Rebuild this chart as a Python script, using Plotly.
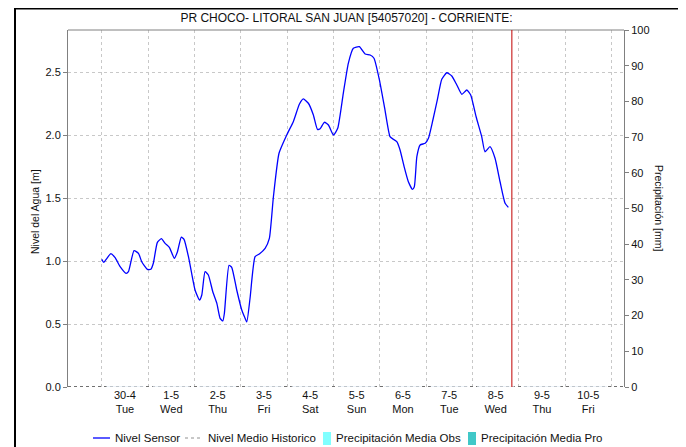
"""
Nivel del agua - PR CHOCO- LITORAL SAN JUAN [54057020]
"""

import pandas as pd
import plotly.graph_objects as go

# horas desde 2024-04-30 00:00 y nivel del sensor [m]
horas = [0, 1, 4.7, 6.9, 9.5, 12.6, 13.8, 16.7, 19.0, 20.7,
         23.6, 25.4, 26.7, 28.8, 30.9, 32.8, 35.0, 37.6, 39.2, 41.2,
         42.6, 44.9, 48.3, 50.6, 51.8, 53.5, 55.2, 57.5, 59.6, 61.3,
         62.7, 63.5, 65.9, 67.3, 69.9, 72.5, 73.9, 75.1, 76.8, 79.4,
         81.6, 84.6, 86.8, 88.9, 91.8, 95.8, 99.2, 102.4, 104.4, 107.0,
         109.6, 111.7, 113.1, 115.3, 117.4, 120.0, 122.2, 125.1, 127.7, 130.3,
         133.4, 136.4, 139.0, 141.0, 143.8, 146.7, 149.3, 151.0, 152.8, 154.5,
         156.6, 158.8, 160.9, 161.9, 163.2, 164.9, 167.5, 169.2, 171.5, 173.8,
         176.1, 178.7, 181.3, 183.9, 186.5, 189.1, 191.1, 193.9, 196.8, 198.5,
         201.1, 203.7, 206.3, 208.9, 210.6]
nivel = [1.013, 0.99, 1.058, 1.026, 0.955, 0.902, 0.915, 1.082, 1.061, 0.994,
         0.934, 0.934, 0.982, 1.148, 1.177, 1.14, 1.109, 1.021, 1.074, 1.19,
         1.172, 1.034, 0.77, 0.69, 0.73, 0.915, 0.889, 0.756, 0.664, 0.545,
         0.524, 0.585, 0.966, 0.95, 0.77, 0.611, 0.558, 0.516, 0.704, 1.034,
         1.056, 1.101, 1.18, 1.51, 1.855, 2.0, 2.106, 2.246, 2.286, 2.252,
         2.159, 2.045, 2.05, 2.101, 2.079, 2.0, 2.053, 2.331, 2.569, 2.688,
         2.701, 2.643, 2.635, 2.609, 2.437, 2.198, 1.987, 1.966, 1.947, 1.881,
         1.749, 1.629, 1.569, 1.59, 1.828, 1.921, 1.934, 1.974, 2.119, 2.278,
         2.442, 2.494, 2.468, 2.397, 2.323, 2.357, 2.317, 2.145, 1.987, 1.867,
         1.907, 1.815, 1.629, 1.458, 1.426]

dias = pd.date_range("2024-04-30", "2024-05-11", freq="D")
etiquetas = ["30-4<br>Tue", "1-5<br>Wed", "2-5<br>Thu", "3-5<br>Fri", "4-5<br>Sat",
             "5-5<br>Sun", "6-5<br>Mon", "7-5<br>Tue", "8-5<br>Wed", "9-5<br>Thu",
             "10-5<br>Fri"]
nivel_historico = [0, 0]
precip_obs = [0] * 11
precip_pro = [0] * 11

series = ["Nivel Sensor", "Nivel Medio Historico",
          "Precipitación Media Obs", "Precipitación Media Pro"]
colores = ["#0000ff", "#909090", "#80ffff", "#40c8c8"]

rango_x = ["2024-04-29 06:30", "2024-05-11 06:30"]
ahora = "2024-05-08 20:25"

fechas = pd.Timestamp("2024-04-30") + pd.to_timedelta(horas, unit="h")
mediodia = dias[:11] + pd.Timedelta(hours=12)

FONT = "Liberation Sans, Arial, sans-serif"
OFF = 8  # margen del body de la pagina
W, H = 686 - OFF, 447 - OFF
L, R, T, B = 68 - OFF, 624 - OFF, 30 - OFF, 387 - OFF


def px(x):
    # pixel de la pagina -> coordenada paper
    return (x - OFF - L) / (R - L)


def py(y):
    return (B - (y - OFF)) / (B - T)


fig = go.Figure()

fig.add_trace(go.Bar(x=mediodia, y=precip_obs, yaxis="y2", name=series[2],
                     marker_color=colores[2]))
fig.add_trace(go.Bar(x=mediodia, y=precip_pro, yaxis="y2", name=series[3],
                     marker_color=colores[3]))
fig.add_trace(go.Scatter(x=rango_x, y=nivel_historico, mode="lines", name=series[1],
                         line=dict(color="#707070", width=2, dash="dot")))
fig.add_trace(go.Scatter(x=fechas, y=nivel, mode="lines", name=series[0],
                         line=dict(color=colores[0], width=1.3, shape="spline", smoothing=0.5)))

fig.update_layout(
    width=W, height=H,
    margin=dict(l=L, r=W - R, t=T, b=H - B, autoexpand=False),
    paper_bgcolor="white", plot_bgcolor="white",
    font=dict(family=FONT, size=11, color="#111"),
    showlegend=False,
    barmode="overlay",
    xaxis=dict(range=rango_x, type="date", tickmode="array", tickvals=mediodia,
               ticktext=etiquetas, showgrid=False, ticks="", showline=False,
               zeroline=False, tickfont=dict(size=11), automargin=False,
               minor=dict(tickmode="array", tickvals=dias, showgrid=True,
                          gridcolor="#c8c8c8", griddash="dot", gridwidth=1, ticks="")),
    yaxis=dict(range=[0, 2.8333], tickmode="array", tickvals=[0, 0.5, 1, 1.5, 2, 2.5],
               ticktext=["0.0", "0.5", "1.0", "1.5", "2.0", "2.5"],
               showgrid=True, gridcolor="#c8c8c8", griddash="dot", automargin=False,
               zeroline=False, showline=True, linecolor="#808080", linewidth=1,
               ticks="outside", ticklen=4, tickcolor="#808080"),
    yaxis2=dict(range=[0, 100], overlaying="y", side="right", dtick=10, automargin=False,
                showgrid=False, zeroline=False, showline=True, linecolor="#808080",
                ticks="outside", ticklen=4, tickcolor="#808080"),
    title=dict(text="PR CHOCO- LITORAL SAN JUAN [54057020] - CORRIENTE:",
               x=(346.5 - OFF) / W, xanchor="center", y=1 - (18 - OFF) / H, yanchor="middle",
               font=dict(size=12, color="#111")),
)

# marco exterior, borde superior del area y linea de la fecha actual
fig.add_shape(type="rect", xref="paper", yref="paper", x0=px(15), x1=px(679),
              y0=py(470), y1=py(OFF + 0.5), line=dict(color="black", width=2), layer="below")
fig.add_shape(type="line", xref="paper", yref="paper", x0=0, x1=1, y0=1, y1=1,
              line=dict(color="#808080", width=1))
fig.add_shape(type="line", xref="x", yref="paper", x0=ahora, x1=ahora, y0=0, y1=1,
              line=dict(color="#c00000", width=1))

# titulos de los ejes
fig.add_annotation(text="Nivel del Agua [m]", textangle=-90, xref="paper", yref="paper",
                   x=px(35), y=py(212), xanchor="center", yanchor="middle",
                   showarrow=False, font=dict(size=10.5, color="#111"))
fig.add_annotation(text="Precipitación [mm]", textangle=90, xref="paper", yref="paper",
                   x=px(659), y=py(208), xanchor="center", yanchor="middle",
                   showarrow=False, font=dict(size=10.5, color="#111"))

# leyenda
ly = py(438)
fig.add_shape(type="line", xref="paper", yref="paper", x0=px(93), x1=px(110), y0=ly, y1=ly,
              line=dict(color=colores[0], width=1.3))
fig.add_shape(type="line", xref="paper", yref="paper", x0=px(185), x1=px(202), y0=ly, y1=ly,
              line=dict(color=colores[1], width=1, dash="dot"))
fig.add_shape(type="rect", xref="paper", yref="paper", x0=px(323), x1=px(331),
              y0=py(445), y1=py(432), line=dict(width=0), fillcolor=colores[2])
fig.add_shape(type="rect", xref="paper", yref="paper", x0=px(468), x1=px(476),
              y0=py(445), y1=py(432), line=dict(width=0), fillcolor=colores[3])
for texto, x0 in zip(series, [113, 206, 334, 479]):
    fig.add_annotation(text=texto, xref="paper", yref="paper", x=px(x0), y=ly,
                       xanchor="left", yanchor="middle", showarrow=False,
                       font=dict(size=11.5, color="#111"))

fig.write_html("out.html")
